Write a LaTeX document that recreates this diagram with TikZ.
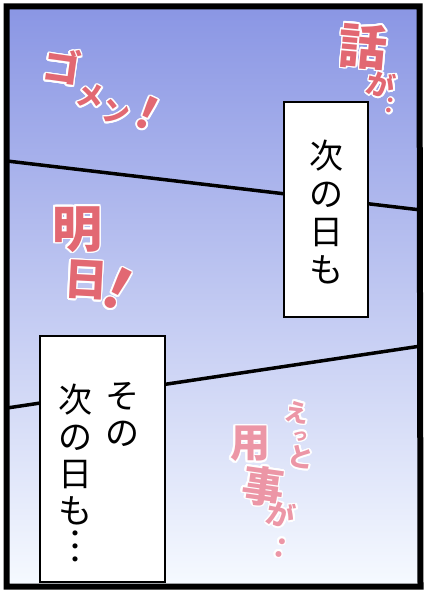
\documentclass[tikz,border=0pt]{standalone}
\usepackage{fontspec}
\usepackage{contour}
\usepackage{tikz}

\newfontfamily\jpfont{Noto Sans CJK JP}
\contourlength{1.6pt}
\contournumber{16}

\definecolor{skytop}{RGB}{138,150,228}
\definecolor{skymid}{RGB}{184,198,240}
\definecolor{skybot}{RGB}{246,250,255}
\definecolor{sfxred}{RGB}{226,104,114}
\definecolor{sfxpale}{RGB}{236,150,166}

\begin{document}
\begin{tikzpicture}[x=1pt,y=-1pt,
  every node/.style={inner sep=0pt, outer sep=0pt},
  caption/.style={rectangle, draw=black, line width=2pt, fill=white},
  tate/.style={align=center, font=\jpfont\fontsize{34}{#1}\selectfont},
  sfx/.style={text=sfxred, font=\jpfont\bfseries\fontsize{#1}{#1}\selectfont},
  sfxpale/.style={text=sfxpale, font=\jpfont\bfseries\fontsize{#1}{#1}\selectfont}]
\useasboundingbox (0,0) rectangle (423,591);
\fill[white] (0,0) rectangle (423,591);

% Define the panel and its sky
\coordinate (TL) at (6.5,6.5);
\coordinate (TR) at (419.5,6.5);
\coordinate (BR) at (420.5,586.5);
\coordinate (BL) at (6.5,586.5);
\shade[top color=skytop, middle color=skymid, bottom color=skybot]
  (TL) -- (TR) -- (BR) -- (BL) -- cycle;

% Tier lines across the panel
\coordinate (L1a) at (7,161);
\coordinate (L1b) at (421,210);
\coordinate (L2a) at (7,408);
\coordinate (L2b) at (421,346);
\draw[line width=3.5pt] (L1a) -- (L1b);
\draw[line width=3.5pt] (L2a) -- (L2b);

\draw[line width=6pt] (TL) -- (TR) -- (BR) -- (BL) -- cycle;

% Caption boxes
\node[caption, minimum width=84, minimum height=215] (box1) at (326,209.5) {};
\node[caption, minimum width=125, minimum height=246] (box2) at (102.5,459) {};

\node[tate=38, anchor=north] (txt1) at (326,140) {次\\の\\日\\も};
\node[tate=37, anchor=north] (txt2a) at (122,382) {そ\\の};
\node[tate=37, anchor=north] (txt2b) at (75,384) {次\\の\\日\\も};
\node[align=center, font=\jpfont\fontsize{24}{13}\selectfont] (ell) at (75,550) {・\\・\\・};

% Sound effects
\node[sfx=38, rotate=-8] (go) at (62,67) {\contour{white}{ゴ}};
\node[sfx=28, rotate=-10] (me) at (90,97) {\contour{white}{メ}};
\node[sfx=28, rotate=-10] (n) at (116,113) {\contour{white}{ン}};
\node[sfx=44, rotate=-25] (ex1) at (147,114) {\contour{white}{！}};

\node[sfx=48, rotate=-5] (hanashi) at (363,47) {\contour{white}{話}};
\node[sfx=28, rotate=-15] (ga1) at (381,85) {\contour{white}{が}};
\node[sfx=22, rotate=-10] (dots1) at (390,107) {\contour{white}{：}};

\node[sfx=50] (ashita1) at (77,230) {\contour{white}{明}};
\node[sfx=44, rotate=-3] (ashita2) at (86,281) {\contour{white}{日}};
\node[sfx=56, rotate=-27] (ex2) at (117,290) {\contour{white}{！}};

\node[sfxpale=24, rotate=-10] (e) at (297,413) {\contour{white}{え}};
\node[sfxpale=16] (tsu) at (300,437) {\contour{white}{っ}};
\node[sfxpale=26, rotate=-10] (to) at (301,458) {\contour{white}{と}};
\node[sfxpale=40] (you) at (250,445) {\contour{white}{用}};
\node[sfxpale=42, rotate=-8] (ji) at (263,487) {\contour{white}{事}};
\node[sfxpale=28, rotate=-15] (ga2) at (281,515) {\contour{white}{が}};
\node[sfxpale=28, rotate=-15] (dots2) at (280,549) {\contour{white}{：}};
\end{tikzpicture}
\end{document}
